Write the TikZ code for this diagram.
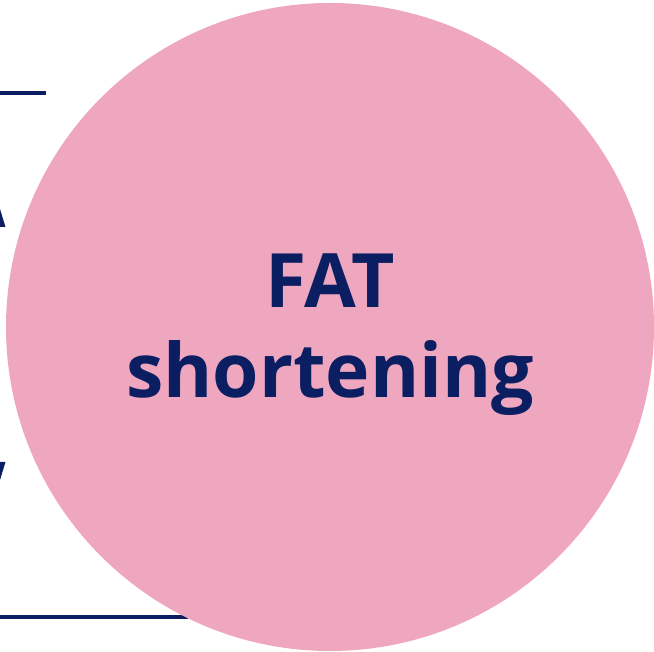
\documentclass[tikz,border=0pt]{standalone}
\usepackage{fontspec}
\setmainfont{Open Sans}
\usetikzlibrary{arrows.meta}
\definecolor{navy}{HTML}{0B1E62}
\definecolor{rosepink}{HTML}{EEA7BF}
\begin{document}
\begin{tikzpicture}[x=1pt, y=1pt,
    rim/.style={navy, line width=3.5pt},
    blob/.style={circle, fill=rosepink, minimum size=648pt, inner sep=0pt},
    label/.style={font=\fontsize{75}{90}\selectfont\bfseries, text=navy, align=center}]
  \useasboundingbox (0,0) rectangle (654,652);
  % measure lines and arrow, mostly cut off on the left
  \draw[rim] (-20,559) -- (46,559);
  \draw[rim] (-20,35) -- (188,35);
  \draw[rim, {Triangle[width=30pt,length=51pt]}-{Triangle[width=30pt,length=51pt]}] (-10,476) -- (-10,139);
  \node[blob] (fat) at (330,325) {};
  \node[label] (txt) at (fat.center) [yshift=-8pt] {FAT\\shortening};
\end{tikzpicture}
\end{document}
